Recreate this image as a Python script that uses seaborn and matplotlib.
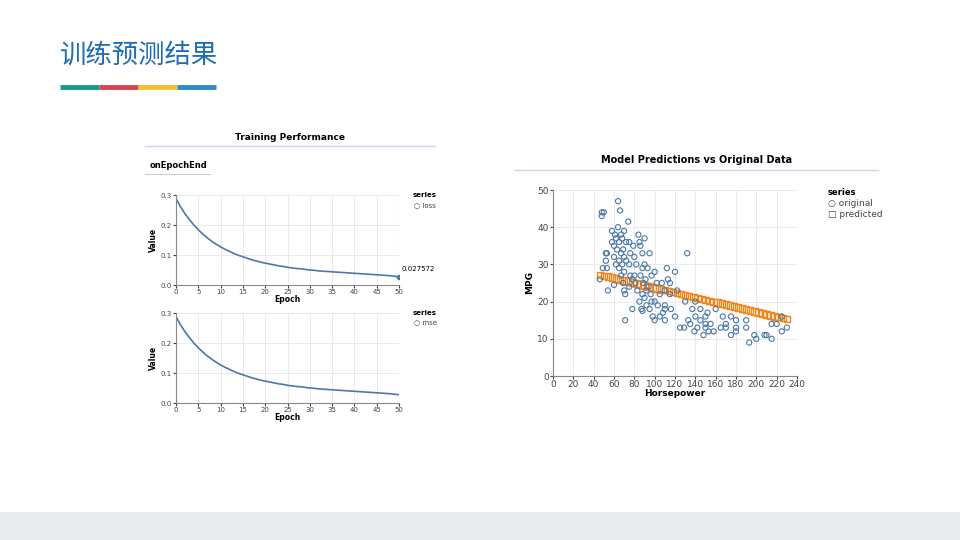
import matplotlib
matplotlib.use("Agg")
import matplotlib.pyplot as plt
import seaborn as sns
import pandas as pd
from matplotlib.lines import Line2D
from matplotlib import font_manager as fm

epochs = list(range(51))
loss = [0.288,0.261,0.238,0.218,0.200,0.184,0.170,0.157,0.146,0.136,0.127,0.119,0.112,0.105,0.099,0.094,
        0.089,0.084,0.080,0.076,0.073,0.070,0.067,0.064,0.062,0.059,0.057,0.055,0.054,0.052,0.050,0.049,
        0.047,0.046,0.045,0.044,0.043,0.042,0.041,0.040,0.039,0.038,0.037,0.036,0.035,0.034,0.033,0.032,
        0.031,0.029,0.027572]
mse = loss[:]

hp_orig = [46,48,48,49,50,52,52,53,53,54,58,58,60,60,60,61,62,62,63,64,64,65,65,65,66,67,67,67,68,68,69,69,70,70,70,70,71,71,72,72,74,75,75,75,76,76,78,78,79,80,80,81,82,83,84,85,85,86,86,87,88,88,88,88,89,90,90,90,91,92,92,93,94,95,95,96,97,97,98,100,100,100,102,103,105,105,107,108,110,110,110,110,112,113,115,115,116,120,120,122,125,129,130,132,133,135,137,139,140,140,142,145,145,148,150,150,150,152,153,155,158,160,165,167,170,170,175,175,180,180,180,190,190,193,198,200,208,210,215,215,220,225,225,230]
mpg_orig = [26,43,44,29,44,33,31,33,29,23,39,36,24.5,35,32,38,37,30,34,47,40,36,31,29,44.5,38,33,27,37,30,34,25,32,39,28,23,15,22,36,31,41.5,36,30,24,33,27,18,26,35,32,27,25,30,23,38,36,20,35,27,18,33,29,22,17.5,25,37,30,21,26,19,23,29,24,33,18,22,27,20,16,28,20,15,25,19,22,16,25,17,23,19,15,18,29,26,22,25,18,28,16,23,13,13,20,33,15,14,18,12,20,16,13,18,15,11,16,13,14,17,12,14,12,18,13,16,14,13,11,16,13,15,12,15,13,9,11,10,11,11,14,10,14,12,16,13]
hp_pred = [46,50,54,58,62,66,70,74,78,82,86,90,94,98,102,106,110,114,118,122,126,130,134,138,142,146,150,154,158,162,166,170,174,178,182,186,190,194,198,202,206,210,214,218,222,226,230]
mpg_pred = [27.2,26.94,26.68,26.42,26.16,25.91,25.65,25.39,25.13,24.87,24.61,24.35,24.09,23.83,23.57,23.32,23.06,22.80,22.54,22.28,22.02,21.76,21.50,21.24,20.98,20.73,20.47,20.21,19.95,19.69,19.43,19.17,18.91,18.65,18.39,18.14,17.88,17.62,17.36,17.10,16.84,16.58,16.32,16.06,15.80,15.55,15.29]

cands = [f for f in fm.findSystemFonts() if "CJK" in f or "NotoSansSC" in f]
cands.sort(key=lambda f: (0 if "Regular" in f else 1 if "DemiLight" in f else 2 if "Medium" not in f and "Bold" not in f and "Black" not in f else 3))
fig = plt.figure(figsize=(9.6,5.4), dpi=100)
fig.patch.set_facecolor("white")
if cands:
    fp = fm.FontProperties(fname=cands[0], size=19)
else:
    fp = fm.FontProperties(family="Noto Sans CJK SC", size=19)
fig.text(60/960, 1-55/540, "训练预测结果", fontproperties=fp, color="#1f6db3", va="center")
for i,c in enumerate(["#169a8c","#d9434f","#f2c12e","#2e8bc9"]):
    fig.add_artist(Line2D([(60+39*i)/960,(60+39*(i+1))/960],[1-87/540]*2, color=c, lw=3.5, solid_capstyle="butt"))
fig.add_artist(plt.Rectangle((0,0),1,28/540, transform=fig.transFigure, color="#e8ecec", lw=0))

blue = "#4c78a8"
def style(ax, xlabel, ylabel):
    ax.grid(True, color="#e6e6e6", lw=0.6); ax.set_axisbelow(True)
    for s in ["top","right"]: ax.spines[s].set_visible(False)
    for s in ["left","bottom"]: ax.spines[s].set_color("#888")
    ax.tick_params(labelsize=5, length=2, pad=1, colors="#444")
    ax.set_xlabel(xlabel, fontsize=5.5, fontweight="bold", labelpad=0)
    ax.set_ylabel(ylabel, fontsize=5.5, fontweight="bold", labelpad=2)

fig.text(290/960, 1-137/540, "Training Performance", fontsize=6.5, fontweight="bold", ha="center", va="center")
fig.add_artist(Line2D([145/960,435/960],[1-146/540]*2, color="#c8d4ea", lw=1))
fig.text(150/960, 1-165/540, "onEpochEnd", fontsize=6, fontweight="bold", va="center")
fig.add_artist(Line2D([145/960,210/960],[1-174/540]*2, color="#ccc", lw=0.8))

for (bot, series, name, last) in [(285, loss, "loss", True), (403, mse, "mse", False)]:
    ax = fig.add_axes([176/960, 1-bot/540, 223/960, 90/540])
    sns.lineplot(x=epochs, y=series, ax=ax, color=blue, lw=1.2)
    ax.set_xlim(0,50); ax.set_ylim(0,0.3)
    ax.set_xticks(range(0,51,5)); ax.set_yticks([0,0.1,0.2,0.3])
    style(ax, "Epoch", "Value")
    if last:
        ax.axvline(50, color="#bbb", lw=0.8)
        ax.plot([50],[series[-1]], "o", color=blue, ms=3)
        ax.annotate(f"{series[-1]}", (50, series[-1]), xytext=(2,4), textcoords="offset points", fontsize=5)
    fig.text(413/960, 1-(bot-88)/540, "series", fontsize=5, fontweight="bold")
    fig.text(414/960, 1-(bot-78)/540, "○ "+name, fontsize=5, color="#444")

fig.text(697/960, 1-160/540, "Model Predictions vs Original Data", fontsize=7, fontweight="bold", ha="center", va="center")
fig.add_artist(Line2D([515/960,878/960],[1-170/540]*2, color="#c8d4ea", lw=1))
ax = fig.add_axes([553/960, 1-376/540, 244/960, 186/540])
sns.scatterplot(x=hp_pred, y=mpg_pred, ax=ax, marker="s", s=22, facecolor="none", edgecolor="#f58518", linewidth=1.0)
sns.scatterplot(x=hp_orig, y=mpg_orig, ax=ax, marker="o", s=14, facecolor="none", edgecolor=blue, linewidth=0.8)
ax.set_xlim(0,240); ax.set_ylim(0,50)
ax.set_xticks(range(0,241,20)); ax.set_yticks(range(0,51,10))
style(ax, "Horsepower", "MPG")
ax.tick_params(labelsize=6.5)
ax.xaxis.label.set_size(6.5); ax.yaxis.label.set_size(6.5)
fig.text(828/960, 1-195/540, "series", fontsize=6, fontweight="bold")
fig.text(828/960, 1-206/540, "○ original", fontsize=6.5, color="#444")
fig.text(828/960, 1-217/540, "□ predicted", fontsize=6.5, color="#444")
fig.savefig("out.png", dpi=100)
